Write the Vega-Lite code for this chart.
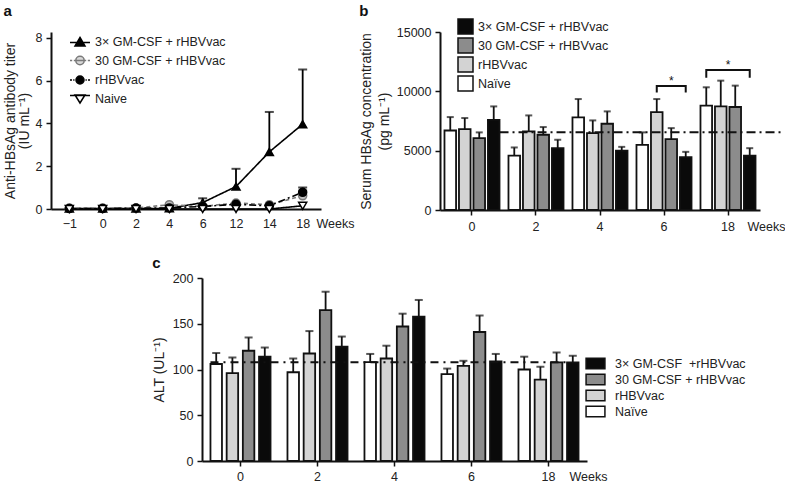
{
  "$schema": "https://vega.github.io/schema/vega-lite/v6.json",
  "padding": {"left": 3, "top": 4, "right": 0, "bottom": 0},
  "background": "white",
  "config": {
    "font": "Liberation Sans",
    "view": {"stroke": null},
    "axis": {"grid": false, "offset": 0, "domainColor": "#111", "domainWidth": 2, "tickColor": "#111", "tickWidth": 1.5, "tickSize": 5, "labelFont": "Liberation Sans", "labelFontSize": 12.5, "labelColor": "#222", "titleFont": "Liberation Sans", "titleFontSize": 14, "titleFontWeight": "normal", "titleColor": "#222", "labelPadding": 4},
    "axisY": {"minExtent": 0, "offset": 0},
    "legend": {"labelFont": "Liberation Sans", "labelFontSize": 12.5, "labelColor": "#222", "padding": 0},
    "title": {"font": "Liberation Sans", "fontSize": 15, "fontWeight": "bold", "anchor": "start", "frame": "bounds", "color": "#111"}
  },
  "datasets": {
    "a": [
      {"week": "−1", "series": "3× GM-CSF + rHBVvac", "v": 0.02},
      {"week": "0", "series": "3× GM-CSF + rHBVvac", "v": 0.02},
      {"week": "2", "series": "3× GM-CSF + rHBVvac", "v": 0.02},
      {"week": "4", "series": "3× GM-CSF + rHBVvac", "v": 0.03},
      {"week": "6", "series": "3× GM-CSF + rHBVvac", "v": 0.3, "upper": 0.5},
      {"week": "12", "series": "3× GM-CSF + rHBVvac", "v": 1.05, "upper": 1.88},
      {"week": "14", "series": "3× GM-CSF + rHBVvac", "v": 2.67, "upper": 4.54},
      {"week": "18", "series": "3× GM-CSF + rHBVvac", "v": 3.97, "upper": 6.52},
      {"week": "−1", "series": "30 GM-CSF + rHBVvac", "v": 0.04},
      {"week": "0", "series": "30 GM-CSF + rHBVvac", "v": 0.04},
      {"week": "2", "series": "30 GM-CSF + rHBVvac", "v": 0.05},
      {"week": "4", "series": "30 GM-CSF + rHBVvac", "v": 0.2},
      {"week": "6", "series": "30 GM-CSF + rHBVvac", "v": 0.12},
      {"week": "12", "series": "30 GM-CSF + rHBVvac", "v": 0.28},
      {"week": "14", "series": "30 GM-CSF + rHBVvac", "v": 0.2},
      {"week": "18", "series": "30 GM-CSF + rHBVvac", "v": 0.62, "upper": 0.88},
      {"week": "−1", "series": "rHBVvac", "v": 0.02},
      {"week": "0", "series": "rHBVvac", "v": 0.02},
      {"week": "2", "series": "rHBVvac", "v": 0.04},
      {"week": "4", "series": "rHBVvac", "v": 0.05},
      {"week": "6", "series": "rHBVvac", "v": 0.12},
      {"week": "12", "series": "rHBVvac", "v": 0.22},
      {"week": "14", "series": "rHBVvac", "v": 0.15},
      {"week": "18", "series": "rHBVvac", "v": 0.78, "upper": 1.0},
      {"week": "−1", "series": "Naive", "v": 0},
      {"week": "0", "series": "Naive", "v": 0},
      {"week": "2", "series": "Naive", "v": 0},
      {"week": "4", "series": "Naive", "v": 0},
      {"week": "6", "series": "Naive", "v": 0},
      {"week": "12", "series": "Naive", "v": 0},
      {"week": "14", "series": "Naive", "v": 0},
      {"week": "18", "series": "Naive", "v": 0.15}
    ],
    "b": [
      {"week": "0", "treat": "Naïve", "v": 6700, "upper": 7830},
      {"week": "2", "treat": "Naïve", "v": 4590, "upper": 5270},
      {"week": "4", "treat": "Naïve", "v": 7800, "upper": 9350},
      {"week": "6", "treat": "Naïve", "v": 5490, "upper": 6540},
      {"week": "18", "treat": "Naïve", "v": 8790, "upper": 10340},
      {"week": "0", "treat": "rHBVvac", "v": 6820, "upper": 7750},
      {"week": "2", "treat": "rHBVvac", "v": 6620, "upper": 7970},
      {"week": "4", "treat": "rHBVvac", "v": 6480, "upper": 7550},
      {"week": "6", "treat": "rHBVvac", "v": 8250, "upper": 9350},
      {"week": "18", "treat": "rHBVvac", "v": 8730, "upper": 10900},
      {"week": "0", "treat": "30 GM-CSF + rHBVvac", "v": 6060, "upper": 6540},
      {"week": "2", "treat": "30 GM-CSF + rHBVvac", "v": 6340, "upper": 6990},
      {"week": "4", "treat": "30 GM-CSF + rHBVvac", "v": 7270, "upper": 8310},
      {"week": "6", "treat": "30 GM-CSF + rHBVvac", "v": 5970, "upper": 6900},
      {"week": "18", "treat": "30 GM-CSF + rHBVvac", "v": 8680, "upper": 10480},
      {"week": "0", "treat": "3× GM-CSF + rHBVvac", "v": 7600, "upper": 8730},
      {"week": "2", "treat": "3× GM-CSF + rHBVvac", "v": 5210, "upper": 5920},
      {"week": "4", "treat": "3× GM-CSF + rHBVvac", "v": 5010, "upper": 5320},
      {"week": "6", "treat": "3× GM-CSF + rHBVvac", "v": 4450, "upper": 4900},
      {"week": "18", "treat": "3× GM-CSF + rHBVvac", "v": 4590, "upper": 5210}
    ],
    "bk": [
      {"id": 1, "ord": 1, "week": "6", "treat": "rHBVvac", "v": 9900},
      {"id": 1, "ord": 2, "week": "6", "treat": "rHBVvac", "v": 10450},
      {"id": 1, "ord": 3, "week": "6", "treat": "3× GM-CSF + rHBVvac", "v": 10450},
      {"id": 1, "ord": 4, "week": "6", "treat": "3× GM-CSF + rHBVvac", "v": 9900},
      {"id": 2, "ord": 1, "week": "18", "treat": "Naïve", "v": 11150},
      {"id": 2, "ord": 2, "week": "18", "treat": "Naïve", "v": 11800},
      {"id": 2, "ord": 3, "week": "18", "treat": "3× GM-CSF + rHBVvac", "v": 11800},
      {"id": 2, "ord": 4, "week": "18", "treat": "3× GM-CSF + rHBVvac", "v": 11150}
    ],
    "stars": [
      {"week": "6", "treat": "30 GM-CSF + rHBVvac", "v": 10450, "label": "*"},
      {"week": "18", "v": 11800, "label": "*"}
    ],
    "c": [
      {"week": "0", "grp": "Naïve", "v": 106, "upper": 118},
      {"week": "2", "grp": "Naïve", "v": 97, "upper": 112},
      {"week": "4", "grp": "Naïve", "v": 108, "upper": 117},
      {"week": "6", "grp": "Naïve", "v": 95, "upper": 101},
      {"week": "18", "grp": "Naïve", "v": 100, "upper": 114},
      {"week": "0", "grp": "rHBVvac", "v": 96, "upper": 113},
      {"week": "2", "grp": "rHBVvac", "v": 117.5, "upper": 142},
      {"week": "4", "grp": "rHBVvac", "v": 112, "upper": 126},
      {"week": "6", "grp": "rHBVvac", "v": 104, "upper": 109.5},
      {"week": "18", "grp": "rHBVvac", "v": 89, "upper": 103},
      {"week": "0", "grp": "30 GM-CSF + rHBVvac", "v": 120.5, "upper": 135},
      {"week": "2", "grp": "30 GM-CSF + rHBVvac", "v": 165, "upper": 185},
      {"week": "4", "grp": "30 GM-CSF + rHBVvac", "v": 147, "upper": 161},
      {"week": "6", "grp": "30 GM-CSF + rHBVvac", "v": 141, "upper": 159},
      {"week": "18", "grp": "30 GM-CSF + rHBVvac", "v": 107.7, "upper": 118.6},
      {"week": "0", "grp": "3× GM-CSF\u00a0 +rHBVvac", "v": 114, "upper": 124},
      {"week": "2", "grp": "3× GM-CSF\u00a0 +rHBVvac", "v": 125, "upper": 136},
      {"week": "4", "grp": "3× GM-CSF\u00a0 +rHBVvac", "v": 157.7, "upper": 176},
      {"week": "6", "grp": "3× GM-CSF\u00a0 +rHBVvac", "v": 108.8, "upper": 117},
      {"week": "18", "grp": "3× GM-CSF\u00a0 +rHBVvac", "v": 107.7, "upper": 115}
    ]
  },
  "spacing": 23,
  "resolve": {"scale": {"fill": "independent", "stroke": "independent", "shape": "independent", "color": "independent", "strokeDash": "independent", "xOffset": "independent", "x": "independent", "y": "independent"}},
  "vconcat": [
    {
      "spacing": 5,
      "resolve": {"scale": {"fill": "independent", "stroke": "independent", "shape": "independent", "color": "independent", "strokeDash": "independent", "xOffset": "independent", "x": "independent", "y": "independent"}},
      "hconcat": [
        {
          "width": 270,
          "height": 177,
          "title": {"text": "a", "offset": 12},
          "data": {"name": "a"},
          "resolve": {"scale": {"shape": "independent", "fill": "independent", "stroke": "independent", "color": "independent", "strokeDash": "independent"}},
          "encoding": {
            "x": {"field": "week", "type": "ordinal", "sort": ["−1", "0", "2", "4", "6", "12", "14", "18"], "scale": {"type": "point", "padding": 0.55},
              "axis": {"labelAngle": 0, "ticks": false, "tickSize": 0, "labelPadding": 8, "title": "Weeks", "titleFontSize": 12.5, "titleX": 265, "titleY": 8, "titleAlign": "left", "titleBaseline": "top", "titleAngle": 0}},
            "y": {"field": "v", "type": "quantitative", "scale": {"domain": [0, 8.28], "nice": false}, "title": ["Anti-HBsAg antibody titer", "(IU mL⁻¹)"],
              "axis": {"values": [0, 2, 4, 6, 8], "titleLineHeight": 13.5, "titlePadding": 4, "offset": 0}}
          },
          "layer": [
            {
              "mark": {"type": "line", "strokeWidth": 1.6},
              "encoding": {
                "stroke": {"field": "series", "type": "nominal", "scale": {"domain": ["3× GM-CSF + rHBVvac", "30 GM-CSF + rHBVvac", "rHBVvac", "Naive"], "range": ["#000000", "#7a7a7a", "#000000", "#000000"]}, "legend": null},
                "strokeDash": {"field": "series", "type": "nominal", "scale": {"domain": ["3× GM-CSF + rHBVvac", "30 GM-CSF + rHBVvac", "rHBVvac", "Naive"], "range": [[1, 0], [4, 3], [7, 3, 2, 3], [1, 0]]}, "legend": null}
              }
            },
            {
              "transform": [{"filter": "isValid(datum.upper)"}],
              "mark": {"type": "rule", "strokeWidth": 1.8},
              "encoding": {
                "y2": {"field": "upper"},
                "stroke": {"field": "series", "type": "nominal", "scale": {"domain": ["3× GM-CSF + rHBVvac", "30 GM-CSF + rHBVvac", "rHBVvac", "Naive"], "range": ["#000000", "#7a7a7a", "#000000", "#000000"]}, "legend": null}
              }
            },
            {
              "transform": [{"filter": "isValid(datum.upper)"}],
              "mark": {"type": "tick", "thickness": 2, "size": 9},
              "encoding": {
                "y": {"field": "upper", "type": "quantitative", "title": ["Anti-HBsAg antibody titer", "(IU mL⁻¹)"]},
                "color": {"field": "series", "type": "nominal", "scale": {"domain": ["3× GM-CSF + rHBVvac", "30 GM-CSF + rHBVvac", "rHBVvac", "Naive"], "range": ["#000000", "#7a7a7a", "#000000", "#000000"]}, "legend": null}
              }
            },
            {
              "mark": {"type": "point", "filled": true, "size": 65, "strokeWidth": 1.5, "opacity": 1},
              "encoding": {
                "shape": {"field": "series", "type": "nominal", "scale": {"domain": ["3× GM-CSF + rHBVvac", "30 GM-CSF + rHBVvac", "rHBVvac", "Naive"], "range": ["triangle-up", "circle", "circle", "triangle-down"]}, "legend": null},
                "fill": {"field": "series", "type": "nominal", "scale": {"domain": ["3× GM-CSF + rHBVvac", "30 GM-CSF + rHBVvac", "rHBVvac", "Naive"], "range": ["#000000", "#bdbdbd", "#000000", "#ffffff"]}, "legend": null},
                "stroke": {"field": "series", "type": "nominal", "scale": {"domain": ["3× GM-CSF + rHBVvac", "30 GM-CSF + rHBVvac", "rHBVvac", "Naive"], "range": ["#000000", "#7a7a7a", "#000000", "#000000"]}, "legend": null}
              }
            },
            {
              "transform": [{"filter": "false"}],
              "mark": {"type": "point", "filled": true, "strokeWidth": 1.5},
              "encoding": {
                "shape": {"field": "series", "type": "nominal", "scale": {"domain": ["3× GM-CSF + rHBVvac", "30 GM-CSF + rHBVvac", "rHBVvac", "Naive"], "range": [
                  "M-1,0.05H1M0,-0.45L0.5,0.4L-0.5,0.4Z",
                  "M-1,0H-0.78M-0.62,0H-0.42M0.42,0H0.62M0.78,0H1M-0.42,0H0.42M0.42,0A0.42,0.42 0 1,1 -0.42,0A0.42,0.42 0 1,1 0.42,0Z",
                  "M-1,0H-0.8M-0.68,0H-0.55M0.55,0H0.68M0.8,0H1M0.4,0A0.4,0.4 0 1,1 -0.4,0A0.4,0.4 0 1,1 0.4,0Z",
                  "M-1,-0.3H1M-0.5,-0.35L0.5,-0.35L0,0.45Z"]},
                  "legend": {"title": null, "orient": "none", "legendX": 18, "legendY": -1, "symbolSize": 400, "rowPadding": 0.5, "labelOffset": 4, "symbolStrokeWidth": 1.5, "symbolOpacity": 1}},
                "fill": {"field": "series", "type": "nominal", "scale": {"domain": ["3× GM-CSF + rHBVvac", "30 GM-CSF + rHBVvac", "rHBVvac", "Naive"], "range": ["#000000", "#d8d8d8", "#000000", "#ffffff"]},
                  "legend": {"title": null, "orient": "none", "legendX": 18, "legendY": -1, "symbolSize": 400, "rowPadding": 0.5, "labelOffset": 4, "symbolStrokeWidth": 1.5, "symbolOpacity": 1}},
                "stroke": {"field": "series", "type": "nominal", "scale": {"domain": ["3× GM-CSF + rHBVvac", "30 GM-CSF + rHBVvac", "rHBVvac", "Naive"], "range": ["#000000", "#7a7a7a", "#000000", "#000000"]},
                  "legend": {"title": null, "orient": "none", "legendX": 18, "legendY": -1, "symbolSize": 400, "rowPadding": 0.5, "labelOffset": 4, "symbolStrokeWidth": 1.5, "symbolOpacity": 1}}
              }
            }
          ]
        },
        {
          "width": 320,
          "height": 178,
          "title": {"text": "b", "offset": -1},
          "data": {"name": "b"},
          "encoding": {
            "x": {"field": "week", "type": "ordinal", "sort": ["0", "2", "4", "6", "18"], "scale": {"type": "band", "paddingInner": 0.14, "paddingOuter": 0.07},
              "axis": {"labelAngle": 0, "bandPosition": 0.5, "labelPadding": 5, "title": "Weeks", "titleFontSize": 12.5, "titleX": 307, "titleY": 10, "titleAlign": "left", "titleBaseline": "top", "titleAngle": 0}},
            "y": {"field": "v", "type": "quantitative", "scale": {"domain": [0, 15000]}, "title": ["Serum HBsAg concentration", "(pg mL⁻¹)"],
              "axis": {"values": [0, 5000, 10000, 15000], "format": "d", "titleLineHeight": 18, "titlePadding": 5, "offset": 0}}
          },
          "layer": [
            {
              "mark": {"type": "bar", "stroke": "#111", "strokeWidth": 1.8},
              "encoding": {
                "xOffset": {"field": "treat", "type": "nominal", "sort": ["Naïve", "rHBVvac", "30 GM-CSF + rHBVvac", "3× GM-CSF + rHBVvac"], "scale": {"paddingInner": 0.2, "paddingOuter": 0}},
                "fill": {"field": "treat", "type": "nominal", "scale": {"domain": ["3× GM-CSF + rHBVvac", "30 GM-CSF + rHBVvac", "rHBVvac", "Naïve"], "range": ["#0a0a0a", "#8c8c8c", "#d3d3d3", "#ffffff"]},
                  "legend": {"title": null, "orient": "none", "legendX": 17, "legendY": -14, "symbolType": "square", "symbolSize": 225, "symbolStrokeColor": "#111", "symbolStrokeWidth": 1.5, "rowPadding": -3, "labelOffset": 4}}
              }
            },
            {
              "mark": {"type": "rule", "strokeWidth": 1.8, "color": "#111"},
              "encoding": {
                "xOffset": {"field": "treat", "type": "nominal", "sort": ["Naïve", "rHBVvac", "30 GM-CSF + rHBVvac", "3× GM-CSF + rHBVvac"]},
                "y2": {"field": "upper"}
              }
            },
            {
              "mark": {"type": "tick", "thickness": 2, "size": 7, "color": "#111"},
              "encoding": {
                "xOffset": {"field": "treat", "type": "nominal", "sort": ["Naïve", "rHBVvac", "30 GM-CSF + rHBVvac", "3× GM-CSF + rHBVvac"]},
                "y": {"field": "upper", "type": "quantitative", "title": ["Serum HBsAg concentration", "(pg mL⁻¹)"]}
              }
            },
            {
              "data": {"values": [{"v": 6560}]},
              "mark": {"type": "rule", "strokeDash": [9, 4, 2, 4], "strokeWidth": 2, "color": "#111"},
              "encoding": {
                "x": {"datum": "0", "type": "ordinal", "bandPosition": 1},
                "x2": {"datum": "18", "bandPosition": 1.5}
              }
            },
            {
              "data": {"name": "bk"},
              "mark": {"type": "line", "strokeWidth": 2, "color": "#111"},
              "encoding": {
                "xOffset": {"field": "treat", "type": "nominal", "sort": ["Naïve", "rHBVvac", "30 GM-CSF + rHBVvac", "3× GM-CSF + rHBVvac"]},
                "detail": {"field": "id", "type": "nominal"},
                "order": {"field": "ord", "type": "quantitative"}
              }
            },
            {
              "data": {"name": "stars"},
              "transform": [{"filter": "datum.week == '6'"}],
              "mark": {"type": "text", "fontSize": 12, "baseline": "alphabetic", "dy": -1, "color": "#111"},
              "encoding": {
                "xOffset": {"field": "treat", "type": "nominal", "sort": ["Naïve", "rHBVvac", "30 GM-CSF + rHBVvac", "3× GM-CSF + rHBVvac"]},
                "text": {"field": "label"}
              }
            },
            {
              "data": {"name": "stars"},
              "transform": [{"filter": "datum.week == '18'"}],
              "mark": {"type": "text", "fontSize": 12, "baseline": "alphabetic", "dy": -1, "color": "#111"},
              "encoding": {
                "text": {"field": "label"}
              }
            }
          ]
        }
      ]
    },
    {
      "spacing": 0,
      "resolve": {"scale": {"fill": "independent", "stroke": "independent", "shape": "independent", "color": "independent", "strokeDash": "independent", "xOffset": "independent", "x": "independent", "y": "independent"}},
      "hconcat": [
        {
          "width": 101,
          "height": 10,
          "data": {"values": []},
          "mark": {"type": "point", "opacity": 0},
          "encoding": {}
        },
        {
          "width": 385,
          "height": 183,
          "title": {"text": "c", "offset": 1},
          "data": {"name": "c"},
          "encoding": {
            "x": {"field": "week", "type": "ordinal", "sort": ["0", "2", "4", "6", "18"], "scale": {"type": "band", "paddingInner": 0.22, "paddingOuter": 0.11},
              "axis": {"labelAngle": 0, "bandPosition": 0.5, "labelPadding": 4, "title": "Weeks", "titleFontSize": 12.5, "titleX": 367, "titleY": 9, "titleAlign": "left", "titleBaseline": "top", "titleAngle": 0}},
            "y": {"field": "v", "type": "quantitative", "scale": {"domain": [0, 200]}, "title": "ALT (UL⁻¹)",
              "axis": {"values": [0, 50, 100, 150, 200], "titlePadding": 6, "offset": 0}}
          },
          "layer": [
            {
              "mark": {"type": "bar", "stroke": "#111", "strokeWidth": 1.8},
              "encoding": {
                "xOffset": {"field": "grp", "type": "nominal", "sort": ["Naïve", "rHBVvac", "30 GM-CSF + rHBVvac", "3× GM-CSF\u00a0 +rHBVvac"], "scale": {"paddingInner": 0.29, "paddingOuter": 0}},
                "fill": {"field": "grp", "type": "nominal", "scale": {"domain": ["3× GM-CSF\u00a0 +rHBVvac", "30 GM-CSF + rHBVvac", "rHBVvac", "Naïve"], "range": ["#0a0a0a", "#8c8c8c", "#d3d3d3", "#ffffff"]},
                  "legend": {"title": null, "orient": "none", "legendX": 386, "legendY": 78, "symbolType": "M-1.45,-0.8H1.45V0.8H-1.45Z", "symbolSize": 169, "symbolStrokeColor": "#111", "symbolStrokeWidth": 1.5, "rowPadding": -1, "labelOffset": 12}}
              }
            },
            {
              "mark": {"type": "rule", "strokeWidth": 1.8, "color": "#111"},
              "encoding": {
                "xOffset": {"field": "grp", "type": "nominal", "sort": ["Naïve", "rHBVvac", "30 GM-CSF + rHBVvac", "3× GM-CSF\u00a0 +rHBVvac"]},
                "y2": {"field": "upper"}
              }
            },
            {
              "mark": {"type": "tick", "thickness": 2, "size": 8, "color": "#111"},
              "encoding": {
                "xOffset": {"field": "grp", "type": "nominal", "sort": ["Naïve", "rHBVvac", "30 GM-CSF + rHBVvac", "3× GM-CSF\u00a0 +rHBVvac"]},
                "y": {"field": "upper", "type": "quantitative", "title": "ALT (UL⁻¹)"}
              }
            },
            {
              "data": {"values": [{"v": 108}]},
              "mark": {"type": "rule", "strokeDash": [8, 5, 2, 5], "strokeWidth": 2, "color": "#111"},
              "encoding": {
                "x": {"datum": "0", "type": "ordinal", "bandPosition": 0},
                "x2": {"datum": "18", "bandPosition": 0.85}
              }
            }
          ]
        }
      ]
    }
  ]
}
